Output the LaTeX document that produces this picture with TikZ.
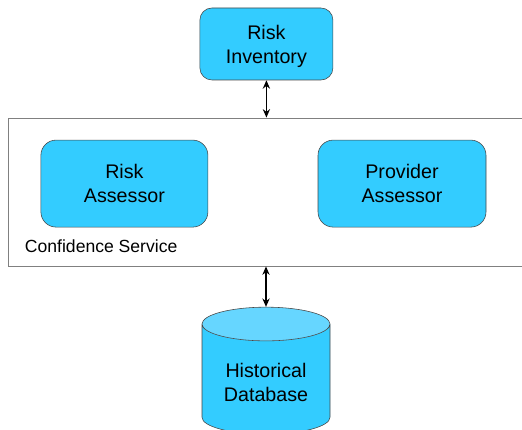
\documentclass[tikz,border=0pt]{standalone}
\usepackage{fontspec}
\setmainfont{Liberation Sans}
\usetikzlibrary{arrows.meta,shapes.geometric}
\definecolor{boxcyan}{RGB}{51,204,255}
\definecolor{topcyan}{RGB}{102,214,255}
\definecolor{edgegray}{RGB}{70,70,70}
\tikzset{
  compbox/.style  = {draw=edgegray,fill=boxcyan,align=center,font=\fontsize{14}{17}\selectfont},
  dblarr/.style   = {{Stealth[length=2.1mm,width=1.8mm]}-{Stealth[length=2.1mm,width=1.8mm]},line width=1.2pt},
  svcframe/.style = {draw=gray,line width=0.6pt}
}
\begin{document}
\begin{tikzpicture}
  \useasboundingbox (0,0) rectangle (13.05,10.75);
  \clip (0,0) rectangle (13.05,10.75);
  % confidence service frame, runs off the right edge
  \node[svcframe,minimum width=13.2cm,minimum height=3.7cm] (svc) at (6.8,5.95) {};
  \node[anchor=west,font=\fontsize{12.5}{15}\selectfont] (svclabel) at (0.5,4.6) {Confidence Service};
  \node[compbox,rounded corners=0.3cm,minimum width=3.325cm,minimum height=1.8cm,
        text depth=-0.05cm] (inv) at (6.66,9.65) {Risk\\Inventory};
  \node[compbox,rounded corners=0.38cm,minimum width=4.175cm,minimum height=2.175cm] (riskass) at (3.11,6.16) {Risk\\Assessor};
  \node[compbox,rounded corners=0.38cm,minimum width=4.2cm,minimum height=2.175cm] (provass) at (10.05,6.16) {Provider\\Assessor};
  \node[cylinder,shape border rotate=90,aspect=0.36,draw=edgegray,
        cylinder uses custom fill,cylinder body fill=boxcyan,cylinder end fill=topcyan,
        minimum width=3.2cm,minimum height=3.175cm,align=center,
        font=\fontsize{14}{17}\selectfont] (hist) at (6.65,1.19) {Historical\\Database};
  \draw[dblarr] (inv.south) -- (inv.south |- svc.north);
  \draw[dblarr] (hist.north |- svc.south) -- (hist.north);
\end{tikzpicture}
\end{document}
